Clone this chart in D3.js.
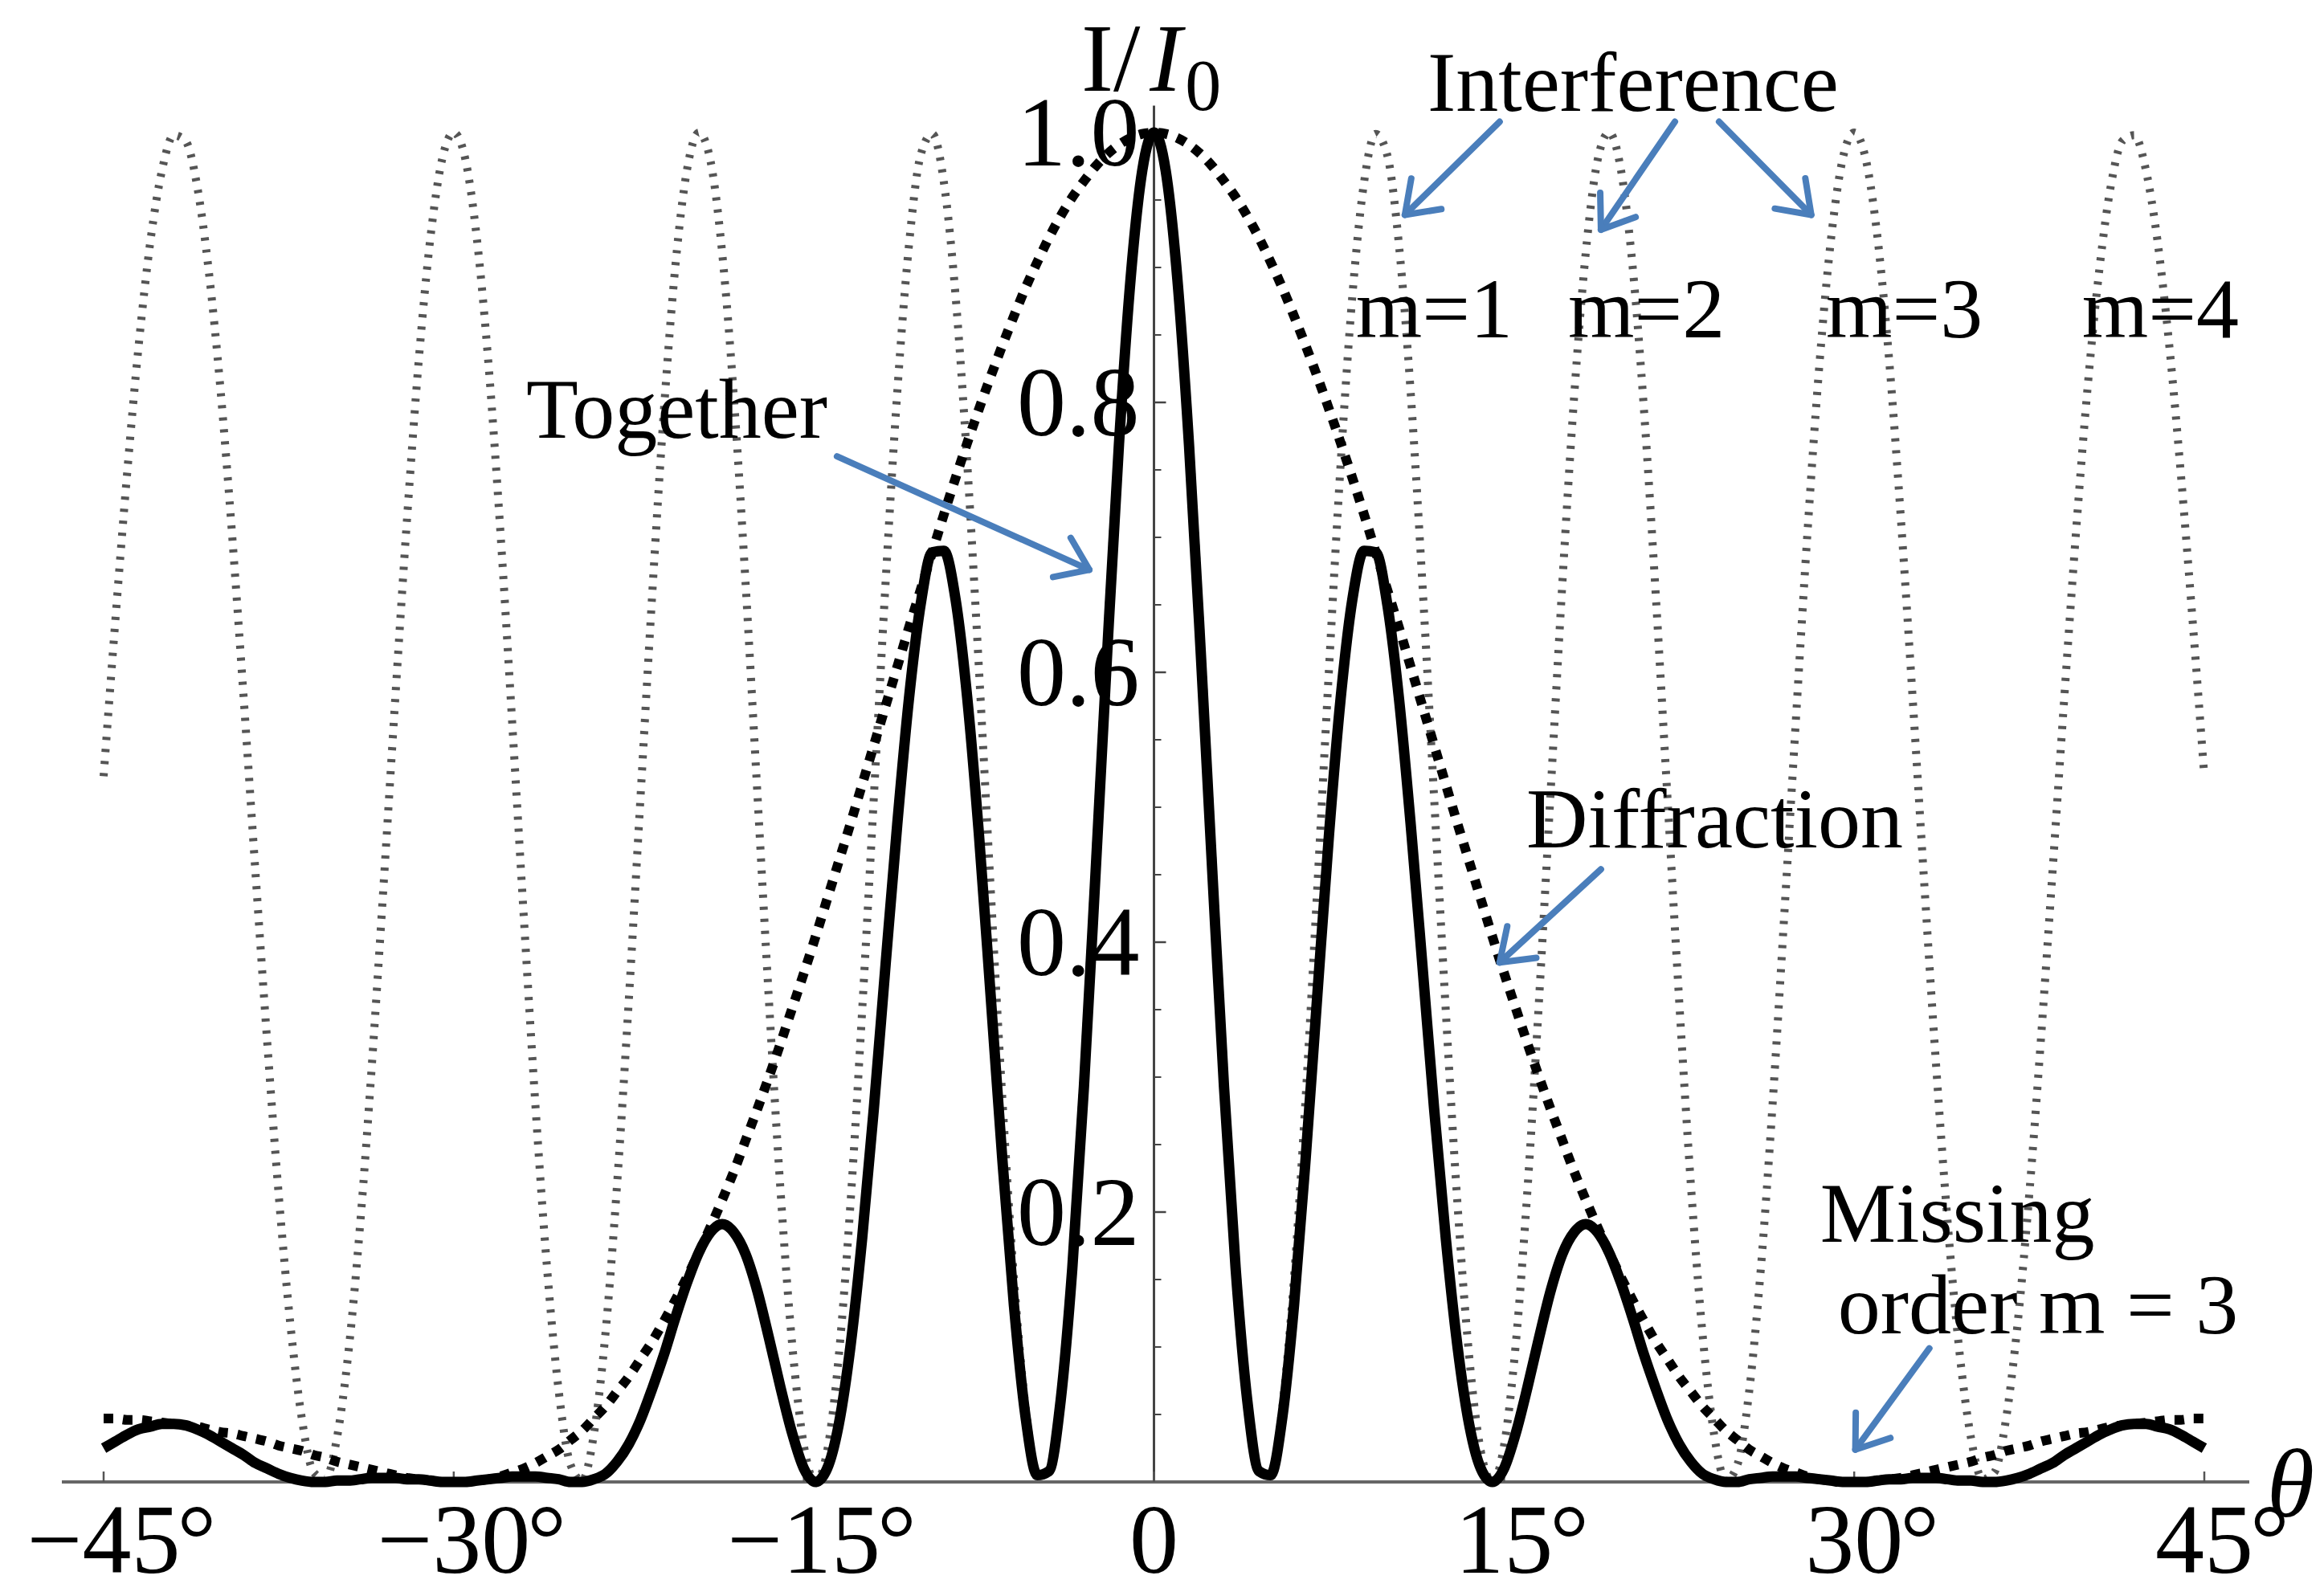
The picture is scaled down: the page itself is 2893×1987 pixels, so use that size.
<!DOCTYPE html>
<html>
<head>
<meta charset="utf-8">
<script src="https://cdn.jsdelivr.net/npm/d3@7"></script>
<style>
  body { margin: 0; background: #fff; }
  text { font-family: "Liberation Serif", "Times New Roman", serif; }
</style>
</head>
<body>
<div id="chart"></div>
<script>
// angle samples, degrees
var angles = [
  -45,-44.5,-44,-43.5,-43,-42.5,-42,-41.5,-41,-40.5,
  -40,-39.5,-39,-38.5,-38,-37.5,-37,-36.5,-36,-35.5,
  -35,-34.5,-34,-33.5,-33,-32.5,-32,-31.5,-31,-30.5,
  -30,-29.5,-29,-28.5,-28,-27.5,-27,-26.5,-26,-25.5,
  -25,-24.5,-24,-23.5,-23,-22.5,-22,-21.5,-21,-20.5,
  -20,-19.5,-19,-18.5,-18,-17.5,-17,-16.5,-16,-15.5,
  -15,-14.5,-14,-13.5,-13,-12.5,-12,-11.5,-11,-10.5,
  -10,-9.5,-9,-8.5,-8,-7.5,-7,-6.5,-6,-5.5,
  -5,-4.5,-4,-3.5,-3,-2.5,-2,-1.5,-1,-0.5,
  0,0.5,1,1.5,2,2.5,3,3.5,4,4.5,
  5,5.5,6,6.5,7,7.5,8,8.5,9,9.5,
  10,10.5,11,11.5,12,12.5,13,13.5,14,14.5,
  15,15.5,16,16.5,17,17.5,18,18.5,19,19.5,
  20,20.5,21,21.5,22,22.5,23,23.5,24,24.5,
  25,25.5,26,26.5,27,27.5,28,28.5,29,29.5,
  30,30.5,31,31.5,32,32.5,33,33.5,34,34.5,
  35,35.5,36,36.5,37,37.5,38,38.5,39,39.5,
  40,40.5,41,41.5,42,42.5,43,43.5,44,44.5,
  45
];

// I/I0, gray dotted
var interference = [
  0.523,0.638,0.746,0.842,0.919,0.972,0.998,0.994,0.961,0.898,
  0.811,0.703,0.581,0.453,0.328,0.213,0.117,0.046,0.007,0.002,
  0.033,0.098,0.193,0.311,0.444,0.582,0.714,0.831,0.922,0.980,
  1.000,0.980,0.920,0.826,0.704,0.564,0.419,0.279,0.158,0.067,
  0.013,0.001,0.035,0.110,0.221,0.357,0.507,0.657,0.793,0.902,
  0.973,1.000,0.979,0.911,0.804,0.667,0.513,0.358,0.216,0.102,
  0.027,0.000,0.023,0.094,0.207,0.350,0.508,0.666,0.807,0.916,
  0.983,0.999,0.963,0.879,0.755,0.603,0.441,0.285,0.151,0.055,
  0.005,0.008,0.064,0.166,0.304,0.463,0.626,0.776,0.896,0.973,
  1.000,0.973,0.896,0.776,0.626,0.463,0.304,0.166,0.064,0.008,
  0.005,0.055,0.151,0.285,0.441,0.603,0.755,0.879,0.963,0.999,
  0.983,0.916,0.807,0.666,0.508,0.350,0.207,0.094,0.023,0.000,
  0.027,0.102,0.216,0.358,0.513,0.667,0.804,0.911,0.979,1.000,
  0.973,0.902,0.793,0.657,0.507,0.357,0.221,0.110,0.035,0.001,
  0.013,0.067,0.158,0.279,0.419,0.564,0.704,0.826,0.920,0.980,
  1.000,0.980,0.922,0.831,0.714,0.582,0.444,0.311,0.193,0.098,
  0.033,0.002,0.007,0.046,0.117,0.213,0.328,0.453,0.581,0.703,
  0.811,0.898,0.961,0.994,0.998,0.972,0.919,0.842,0.746,0.638,
  0.523
];

// black dotted
var diffraction = [
  0.047,0.047,0.046,0.046,0.045,0.044,0.043,0.042,0.041,0.039,
  0.037,0.036,0.034,0.032,0.030,0.027,0.025,0.023,0.020,0.018,
  0.015,0.013,0.011,0.009,0.007,0.005,0.003,0.002,0.001,0.000,
  0.000,0.000,0.001,0.002,0.004,0.007,0.010,0.014,0.019,0.024,
  0.031,0.038,0.047,0.056,0.067,0.078,0.091,0.104,0.119,0.135,
  0.152,0.170,0.189,0.209,0.230,0.253,0.276,0.300,0.325,0.351,
  0.377,0.404,0.432,0.460,0.488,0.517,0.546,0.575,0.604,0.633,
  0.661,0.689,0.717,0.744,0.770,0.795,0.819,0.842,0.864,0.885,
  0.904,0.922,0.938,0.952,0.964,0.975,0.984,0.991,0.996,0.999,
  1.000,0.999,0.996,0.991,0.984,0.975,0.964,0.952,0.938,0.922,
  0.904,0.885,0.864,0.842,0.819,0.795,0.770,0.744,0.717,0.689,
  0.661,0.633,0.604,0.575,0.546,0.517,0.488,0.460,0.432,0.404,
  0.377,0.351,0.325,0.300,0.276,0.253,0.230,0.209,0.189,0.170,
  0.152,0.135,0.119,0.104,0.091,0.078,0.067,0.056,0.047,0.038,
  0.031,0.024,0.019,0.014,0.010,0.007,0.004,0.002,0.001,0.000,
  0.000,0.000,0.001,0.002,0.003,0.005,0.007,0.009,0.011,0.013,
  0.015,0.018,0.020,0.023,0.025,0.027,0.030,0.032,0.034,0.036,
  0.037,0.039,0.041,0.042,0.043,0.044,0.045,0.046,0.046,0.047,
  0.047
];

// solid black
var together = [
  0.025,0.030,0.035,0.039,0.041,0.043,0.043,0.042,0.039,0.035,
  0.030,0.025,0.020,0.014,0.010,0.006,0.003,0.001,0.000,0.000,
  0.001,0.001,0.002,0.003,0.003,0.003,0.002,0.002,0.001,0.000,
  0.000,0.000,0.001,0.002,0.003,0.004,0.004,0.004,0.003,0.002,
  0.000,0.000,0.002,0.006,0.015,0.028,0.046,0.069,0.094,0.122,
  0.148,0.170,0.185,0.191,0.185,0.169,0.142,0.107,0.070,0.036,
  0.010,0.000,0.010,0.043,0.101,0.181,0.277,0.383,0.487,0.580,
  0.650,0.689,0.690,0.654,0.581,0.480,0.361,0.240,0.131,0.048,
  0.005,0.008,0.060,0.158,0.293,0.452,0.616,0.769,0.892,0.972,
  1.000,0.972,0.892,0.769,0.616,0.452,0.293,0.158,0.060,0.008,
  0.005,0.048,0.131,0.240,0.361,0.480,0.581,0.654,0.690,0.689,
  0.650,0.580,0.487,0.383,0.277,0.181,0.101,0.043,0.010,0.000,
  0.010,0.036,0.070,0.107,0.142,0.169,0.185,0.191,0.185,0.170,
  0.148,0.122,0.094,0.069,0.046,0.028,0.015,0.006,0.002,0.000,
  0.000,0.002,0.003,0.004,0.004,0.004,0.003,0.002,0.001,0.000,
  0.000,0.000,0.001,0.002,0.002,0.003,0.003,0.003,0.002,0.001,
  0.001,0.000,0.000,0.001,0.003,0.006,0.010,0.014,0.020,0.025,
  0.030,0.035,0.039,0.042,0.043,0.043,0.041,0.039,0.035,0.030,
  0.025
];

var xTicks = [-45, -30, -15, 0, 15, 30, 45];
var xTickLabels = ["\u221245", "\u221230", "\u221215", "0", "15", "30", "45"];
var yTicks = [0.2, 0.4, 0.6, 0.8, 1.0];
var yTickLabels = ["0.2", "0.4", "0.6", "0.8", "1.0"];
var yMinorTicks = [0.05, 0.1, 0.15, 0.25, 0.3, 0.35, 0.45, 0.5, 0.55, 0.65, 0.7, 0.75, 0.85, 0.9, 0.95];

// annotations, anchored in data units (degrees, I/I0)
var notes = [
  {text: "Interference", t: 11.72, v: 1.016},
  {text: "m=1", t: 8.65, v: 0.848},
  {text: "m=2", t: 17.74, v: 0.848},
  {text: "m=3", t: 28.79, v: 0.848},
  {text: "m=4", t: 39.76, v: 0.848},
  {text: "Together", t: -26.9, v: 0.774},
  {text: "Diffraction", t: 15.95, v: 0.47},
  {text: "Missing", t: 28.54, v: 0.178},
  {text: "order m = 3", t: 29.3, v: 0.11}
];
var arrows = [
  {t1: 14.81, v1: 1.008, t2: 10.75, v2: 0.939},
  {t1: 22.32, v1: 1.008, t2: 19.15, v2: 0.928},
  {t1: 24.21, v1: 1.008, t2: 28.16, v2: 0.939},
  {t1: -13.58, v1: 0.76, t2: -2.77, v2: 0.676},
  {t1: 19.15, v1: 0.454, t2: 14.81, v2: 0.385},
  {t1: 33.22, v1: 0.099, t2: 30.05, v2: 0.024}
];

var width = 2893,
    height = 1987,
    blue = "#4a7ebb";

var svg = d3.select("#chart").append("svg")
    .attr("width", width)
    .attr("height", height)
    .style("background", "#fff");

var x = d3.scaleLinear().domain([-45, 45]).range([129, 2744]);
var y = d3.scaleLinear().domain([0, 1]).range([1845, 165]);

function lineOf(vals) {
  return d3.line()
    .curve(d3.curveMonotoneX)
    .x(function(d, i) { return x(angles[i]); })
    .y(function(d) { return y(d); })(vals);
}

// axes
svg.append("line")
    .attr("x1", 77).attr("x2", 2800)
    .attr("y1", y(0)).attr("y2", y(0))
    .style("stroke", "#666").style("stroke-width", 4);

svg.append("line")
    .attr("x1", x(0)).attr("x2", x(0))
    .attr("y1", y(0)).attr("y2", y(1.02))
    .style("stroke", "#444").style("stroke-width", 3);

svg.selectAll(".xtick").data(xTicks).enter().append("line")
    .attr("x1", function(d) { return x(d); })
    .attr("x2", function(d) { return x(d); })
    .attr("y1", y(0)).attr("y2", y(0) - 13)
    .style("stroke", "#555").style("stroke-width", 2.5);

svg.selectAll(".ytick").data(yTicks).enter().append("line")
    .attr("x1", x(0)).attr("x2", x(0) + 15)
    .attr("y1", function(d) { return y(d); })
    .attr("y2", function(d) { return y(d); })
    .style("stroke", "#444").style("stroke-width", 2.5);

svg.selectAll(".yminor").data(yMinorTicks).enter().append("line")
    .attr("x1", x(0)).attr("x2", x(0) + 9)
    .attr("y1", function(d) { return y(d); })
    .attr("y2", function(d) { return y(d); })
    .style("stroke", "#444").style("stroke-width", 2);

// curves
svg.append("path")
    .attr("d", lineOf(interference))
    .style("fill", "none")
    .style("stroke", "#555")
    .style("stroke-width", 10)
    .style("stroke-dasharray", "4 11");

svg.append("path")
    .attr("d", lineOf(diffraction))
    .style("fill", "none")
    .style("stroke", "#000")
    .style("stroke-width", 12)
    .style("stroke-dasharray", "12 12");

svg.append("path")
    .attr("d", lineOf(together))
    .style("fill", "none")
    .style("stroke", "#000")
    .style("stroke-width", 13)
    .style("stroke-linejoin", "round");

// tick labels
svg.selectAll(".ylab").data(yTicks).enter().append("text")
    .attr("x", x(0) - 18)
    .attr("y", function(d) { return y(d); })
    .attr("dy", "0.34em")
    .attr("text-anchor", "end")
    .style("font-size", "122px")
    .text(function(d, i) { return yTickLabels[i]; });

xTicks.forEach(function(t, i) {
  var lab = svg.append("text")
      .attr("x", x(t))
      .attr("y", 1958)
      .attr("text-anchor", "middle")
      .style("font-size", "122px")
      .text(xTickLabels[i]);
  if (t !== 0) {
    var w = lab.node().getComputedTextLength();
    svg.append("text")
        .attr("x", x(t) + w / 2 - 4)
        .attr("y", 1958)
        .style("font-size", "122px")
        .text("\u00b0");
  }
});

svg.append("text")
    .attr("x", 2822).attr("y", 1888)
    .style("font-size", "120px")
    .style("font-style", "italic")
    .text("\u03b8");

var yl = svg.append("text")
    .attr("x", 1346).attr("y", 113)
    .style("font-size", "120px");
yl.append("tspan").text("I/");
yl.append("tspan").attr("dx", 12).style("font-style", "italic").text("I");
yl.append("tspan").attr("dy", 24).attr("dx", 4).style("font-size", "90px").text("0");

// annotations
svg.selectAll(".note").data(notes).enter().append("text")
    .attr("x", function(d) { return x(d.t); })
    .attr("y", function(d) { return y(d.v); })
    .style("font-size", "106px")
    .text(function(d) { return d.text; });

arrows.forEach(function(a) {
  var x1 = x(a.t1), y1 = y(a.v1), x2 = x(a.t2), y2 = y(a.v2);
  var ang = Math.atan2(y2 - y1, x2 - x1), len = 46, spread = 0.62;
  var g = svg.append("g")
      .style("stroke", blue).style("stroke-width", 8)
      .style("stroke-linecap", "round").style("fill", "none");
  g.append("line").attr("x1", x1).attr("y1", y1).attr("x2", x2).attr("y2", y2);
  g.append("path").attr("d",
      "M" + (x2 - len * Math.cos(ang - spread)) + "," + (y2 - len * Math.sin(ang - spread)) +
      "L" + x2 + "," + y2 +
      "L" + (x2 - len * Math.cos(ang + spread)) + "," + (y2 - len * Math.sin(ang + spread)))
    .style("stroke-linejoin", "round");
});
</script>
</body>
</html>
